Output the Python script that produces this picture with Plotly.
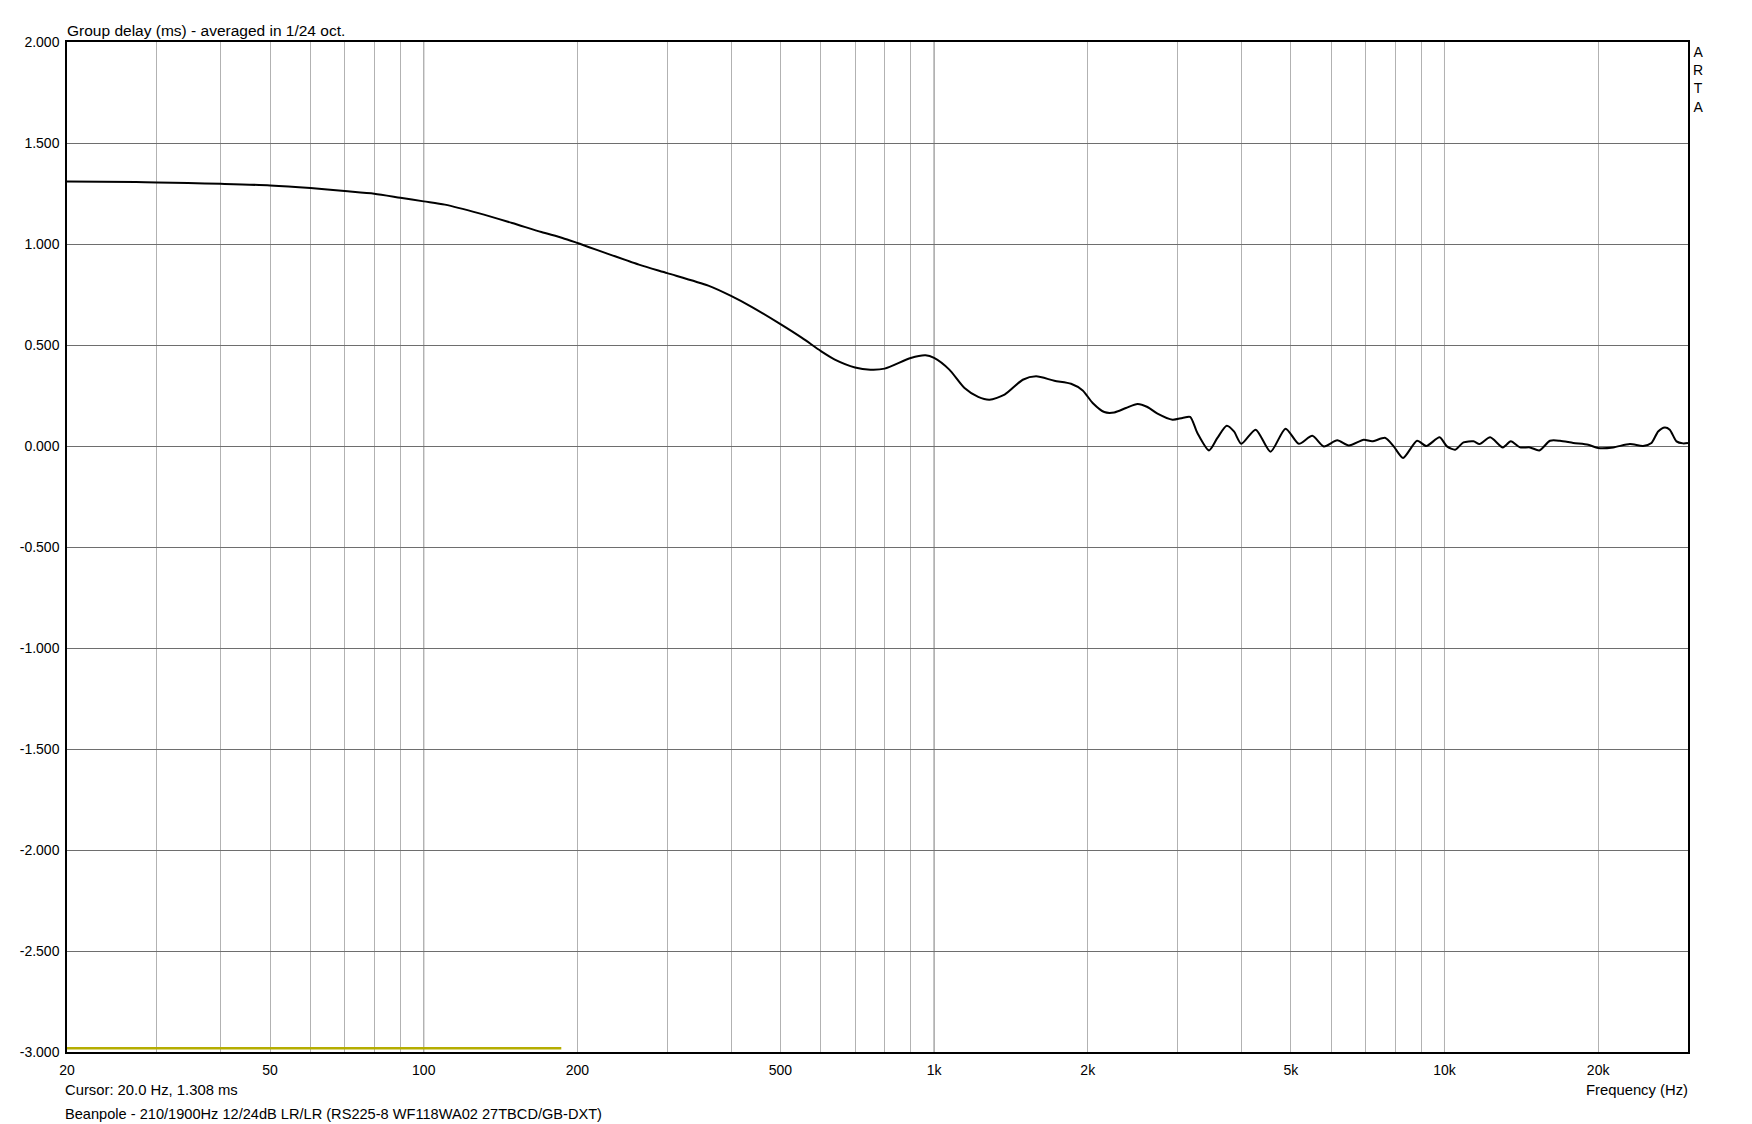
import math
import plotly.graph_objects as go

# ---- data ----
freq_hz = [20, 27.3, 30, 34.5, 40, 50, 60, 70, 80, 90, 100, 110, 128, 149, 170, 187, 200,
           264, 300, 361, 400, 438, 500, 551, 600, 639, 700, 750, 800, 900, 962, 1000,
           1071, 1147, 1220, 1284, 1374, 1492, 1584, 1720, 1855, 1955, 2045, 2155, 2254,
           2376, 2504, 2618, 2740, 2932, 3066, 3174, 3280, 3457, 3590, 3744, 3868, 3998,
           4266, 4562, 4882, 5184, 5508, 5802, 6164, 6494, 6946, 7214, 7658, 7952, 8296,
           8836, 9214, 9782, 10112, 10496, 10894, 11400, 11712, 12288, 13010, 13488,
           14064, 14710, 15340, 16096, 16840, 17880, 19126, 20000, 21410, 23080, 24500,
           25440, 26220, 27020, 27630, 28480, 29340, 30000]
group_delay_ms = [1.310, 1.307, 1.305, 1.302, 1.298, 1.290, 1.277, 1.262, 1.249, 1.229, 1.211,
                  1.195, 1.153, 1.104, 1.059, 1.030, 1.005, 0.898, 0.856, 0.794, 0.743, 0.690,
                  0.603, 0.535, 0.470, 0.428, 0.389, 0.378, 0.383, 0.436, 0.449, 0.436, 0.378,
                  0.287, 0.243, 0.229, 0.254, 0.328, 0.345, 0.323, 0.308, 0.275, 0.213, 0.168,
                  0.166, 0.188, 0.208, 0.193, 0.160, 0.130, 0.139, 0.144, 0.064, -0.022, 0.040,
                  0.100, 0.072, 0.011, 0.081, -0.028, 0.086, 0.011, 0.051, -0.002, 0.028, 0.002,
                  0.031, 0.023, 0.040, -0.002, -0.059, 0.026, 0.000, 0.043, -0.002, -0.018,
                  0.018, 0.023, 0.010, 0.043, -0.007, 0.023, -0.007, -0.007, -0.022, 0.026,
                  0.026, 0.015, 0.006, -0.010, -0.007, 0.010, 0.000, 0.015, 0.072, 0.092,
                  0.081, 0.023, 0.013, 0.015]

marker_freq = [20, 186]
marker_val = [-2.982, -2.982]

x_tick_vals = [20, 30, 40, 50, 60, 70, 80, 90,
               100, 200, 300, 400, 500, 600, 700, 800, 900,
               1000, 2000, 3000, 4000, 5000, 6000, 7000, 8000, 9000,
               10000, 20000]
x_tick_text = ["20", "", "", "50", "", "", "", "",
               "100", "200", "", "", "500", "", "", "", "",
               "1k", "2k", "", "", "5k", "", "", "", "",
               "10k", "20k"]
decade_lines = [100, 1000, 10000]

y_tick_vals = [-3.0, -2.5, -2.0, -1.5, -1.0, -0.5, 0.0, 0.5, 1.0, 1.5, 2.0]
y_tick_text = ["-3.000", "-2.500", "-2.000", "-1.500", "-1.000", "-0.500",
               "0.000", "0.500", "1.000", "1.500", "2.000"]

x_min, x_max = 20, 30000
y_min, y_max = -3.0, 2.0

FONT = "Liberation Sans, Arial, sans-serif"

fig = go.Figure()
fig.add_trace(go.Scatter(x=marker_freq, y=marker_val, mode="lines",
                         line=dict(color="#b5ad00", width=2.5), hoverinfo="skip"))
fig.add_trace(go.Scatter(x=freq_hz, y=group_delay_ms, mode="lines",
                         line=dict(color="#000000", width=2, shape="spline", smoothing=0.7)))

for f in decade_lines:
    fig.add_shape(type="line", xref="x", yref="paper", x0=f, x1=f, y0=0, y1=1,
                  line=dict(color="#6e6e6e", width=1), layer="between")

# the page body has an 8px default margin, so the figure is sized/offset to compensate
fig.update_layout(
    width=1744, height=1116,
    margin=dict(l=55, r=64, t=34, b=72, pad=0),
    paper_bgcolor="white", plot_bgcolor="white",
    showlegend=False,
    font=dict(family=FONT, size=14, color="black"),
    xaxis=dict(type="log", range=[math.log10(x_min), math.log10(x_max)],
               tickmode="array", tickvals=x_tick_vals, ticktext=x_tick_text,
               showgrid=True, gridcolor="#b2b2b2", gridwidth=1,
               showline=True, linecolor="black", linewidth=1.5, mirror=True,
               ticks="", ticklabelstandoff=4, zeroline=False,
               tickfont=dict(family=FONT, size=14, color="black")),
    yaxis=dict(range=[y_min, y_max], tickmode="array",
               tickvals=y_tick_vals, ticktext=y_tick_text,
               showgrid=True, gridcolor="#6e6e6e", gridwidth=1,
               showline=True, linecolor="black", linewidth=1.5, mirror=True,
               ticks="", ticklabelstandoff=3, zeroline=False,
               tickfont=dict(family=FONT, size=14, color="black")),
    annotations=[
        dict(text="Group delay (ms) - averaged in 1/24 oct.", xref="paper", yref="paper",
             x=0, y=1.0112, xanchor="left", yanchor="middle", xshift=-2, showarrow=False,
             font=dict(family=FONT, size=15.5, color="black")),
        dict(text="A<br>R<br>T<br>A", xref="paper", yref="paper",
             x=1.0061, y=1.0, xanchor="center", yanchor="top", showarrow=False,
             font=dict(family=FONT, size=14, color="black")),
        dict(text="Cursor: 20.0 Hz, 1.308 ms", xref="paper", yref="paper",
             x=0, y=-0.038, xanchor="left", yanchor="middle", xshift=-4, showarrow=False,
             font=dict(family=FONT, size=14.8, color="black")),
        dict(text="Beanpole - 210/1900Hz 12/24dB LR/LR (RS225-8 WF118WA02 27TBCD/GB-DXT)",
             xref="paper", yref="paper",
             x=0, y=-0.0615, xanchor="left", yanchor="middle", xshift=-4, showarrow=False,
             font=dict(family=FONT, size=14.6, color="black")),
        dict(text="Frequency (Hz)", xref="paper", yref="paper",
             x=1, y=-0.038, xanchor="right", yanchor="middle", xshift=2, showarrow=False,
             font=dict(family=FONT, size=14.8, color="black")),
    ],
)

fig.write_html("out.html")
